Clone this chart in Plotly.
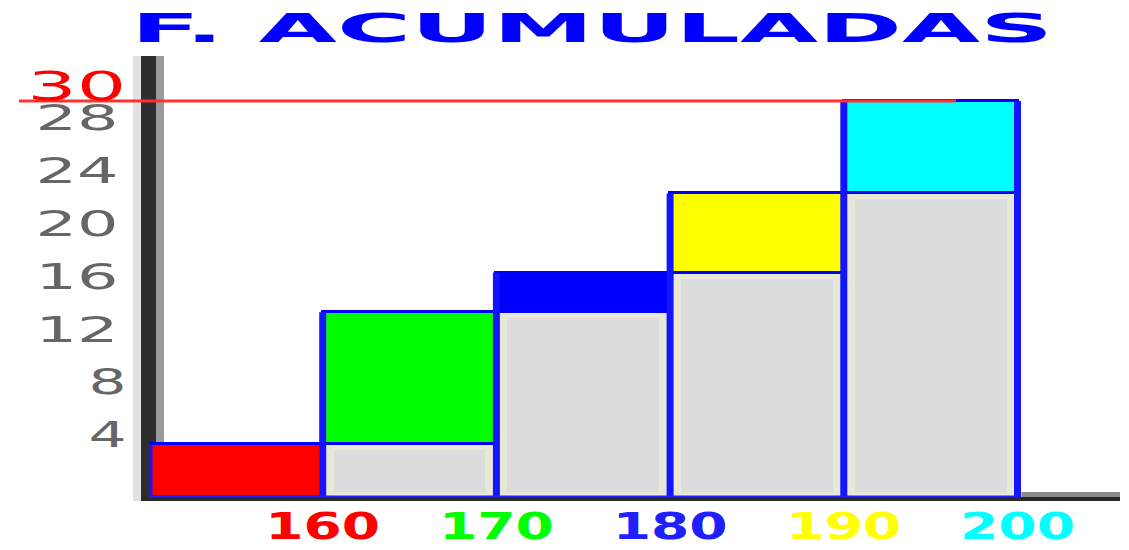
import json
import plotly.graph_objects as go

# ---------------- data ----------------
title_text = "F. ACUMULADAS"
class_edges = [150, 160, 170, 180, 190, 200]
cum_freq = [4, 14, 17, 23, 30]
bar_colors = ["#ff0000", "#00ff00", "#0000ff", "#ffff00", "#00ffff"]
x_tick_values = [160, 170, 180, 190, 200]
x_tick_labels = ["160", "170", "180", "190", "200"]
x_tick_colors = ["#ff0000", "#00ff00", "#2020ff", "#ffff00", "#00ffff"]
y_tick_values = [4, 8, 12, 16, 20, 24, 28]
total_n = 30

# ---------------- geometry helpers (layout only) ----------------
OFF = 8                      # default page body margin
W, H = 1129 - OFF, 550 - OFF
ML, MT = 149 - OFF, 58 - OFF
MR, MB = 9, 53
PW, PH = W - ML - MR, H - MT - MB
X_RANGE = [150, 150 + PW / 17.37]
Y_RANGE = [0, PH / 13.2]


def pxx(px):  # reference-picture pixel -> paper x
    return (px - OFF - ML) / PW


def pxy(py):  # reference-picture pixel -> paper y
    return (H - MB - (py - OFF)) / PH


ux = (X_RANGE[1] - X_RANGE[0]) / PW
uy = (Y_RANGE[1] - Y_RANGE[0]) / PH

mids = [(a + b) / 2 for a, b in zip(class_edges[:-1], class_edges[1:])]
widths = [b - a for a, b in zip(class_edges[:-1], class_edges[1:])]
prev = [0] + cum_freq[:-1]
freq = [c - p for c, p in zip(cum_freq, prev)]

fig = go.Figure()

# gray base (cream rim + gray inner)
fig.add_trace(go.Bar(x=mids, y=prev, base=0, width=widths,
                     marker=dict(color="#e8e8d8", line=dict(width=0)),
                     hoverinfo="skip", showlegend=False))
inset_x, inset_t, inset_b = 11 * ux, 6 * uy, 5 * uy
fig.add_trace(go.Bar(x=mids,
                     y=[max(p - inset_t - inset_b, 0) for p in prev],
                     base=inset_b,
                     width=[w - 2 * inset_x for w in widths],
                     marker=dict(color="#dcdcdc", line=dict(width=0)),
                     hoverinfo="skip", showlegend=False))
# colored increments
fig.add_trace(go.Bar(x=mids, y=freq, base=prev, width=widths,
                     marker=dict(color=bar_colors, line=dict(color="#0000ff", width=3)),
                     hoverinfo="skip", showlegend=False))

# thick vertical borders at class edges
vx, vy = [], []
for k, e in enumerate(class_edges):
    h = cum_freq[min(k, len(cum_freq) - 1)]
    vx += [e, e, None]
    vy += [0, h, None]
fig.add_trace(go.Scatter(x=vx, y=vy, mode="lines",
                         line=dict(color="#1414ff", width=7),
                         hoverinfo="skip", showlegend=False))
# bottom blue border
fig.add_trace(go.Scatter(x=[class_edges[0], class_edges[-1]], y=[0, 0], mode="lines",
                         line=dict(color="#2020ff", width=3),
                         hoverinfo="skip", showlegend=False))

shapes = [
    # y axis thick bar
    dict(type="rect", xref="paper", yref="paper", x0=pxx(133), x1=pxx(141), y0=pxy(501), y1=pxy(56),
         fillcolor="#e2e2e2", line=dict(width=0), layer="below"),
    dict(type="rect", xref="paper", yref="paper", x0=pxx(141), x1=pxx(156), y0=pxy(501), y1=pxy(56),
         fillcolor="#2e2e2e", line=dict(width=0), layer="below"),
    dict(type="rect", xref="paper", yref="paper", x0=pxx(156), x1=pxx(164), y0=pxy(501), y1=pxy(56),
         fillcolor="#9a9a9a", line=dict(width=0), layer="below"),
    # x axis line
    dict(type="rect", xref="paper", yref="paper", x0=pxx(141), x1=pxx(1120), y0=pxy(501), y1=pxy(497),
         fillcolor="#2a2a2a", line=dict(width=0), layer="above"),
    dict(type="rect", xref="x", yref="paper", x0=class_edges[-1] + 4 * ux, x1=X_RANGE[1],
         y0=pxy(497), y1=pxy(492), fillcolor="#8a8a8a", line=dict(width=0), layer="above"),
    # total reference line
    dict(type="line", xref="paper", yref="y", x0=pxx(19), x1=pxx(956), y0=total_n, y1=total_n,
         line=dict(color="#ff3030", width=3), layer="above"),
]

annotations = []
stretch_targets = {}   # annotation index -> target width in px (wide, stretched lettering)

stretch_targets[len(annotations)] = 922
annotations.append(dict(text=title_text, xref="paper", yref="paper", x=pxx(592), y=pxy(29),
                        width=940, align="center",
                        xanchor="center", yanchor="middle", showarrow=False,
                        font=dict(family="DejaVu Sans", size=39, color="#0000ff", weight="bold")))
# y tick labels (baseline sits on the value)
for v in y_tick_values:
    s = str(v)
    cx = 107 if len(s) == 1 else 76.5
    stretch_targets[len(annotations)] = 38 if len(s) == 1 else 83
    annotations.append(dict(text=s, xref="paper", yref="y", x=pxx(cx), y=v,
                            xanchor="center", yanchor="bottom", yshift=-13, showarrow=False,
                            font=dict(family="DejaVu Sans", size=36, color="#666666")))
stretch_targets[len(annotations)] = 99
annotations.append(dict(text=str(total_n), xref="paper", yref="y", x=pxx(76.5), y=total_n,
                        xanchor="center", yanchor="bottom", yshift=-10, showarrow=False,
                        font=dict(family="DejaVu Sans", size=39, color="#ff0000")))

ticktext = [f'<span style="color:{c}">{t}</span>' for t, c in zip(x_tick_labels, x_tick_colors)]

fig.update_layout(
    width=W, height=H,
    margin=dict(l=ML, r=MR, t=MT, b=MB, pad=0, autoexpand=False),
    paper_bgcolor="white", plot_bgcolor="rgba(0,0,0,0)",
    barmode="overlay", bargap=0,
    showlegend=False,
    shapes=shapes, annotations=annotations,
    xaxis=dict(range=X_RANGE, showgrid=False, zeroline=False, showline=False, automargin=False,
               tickmode="array", tickvals=x_tick_values, ticktext=ticktext, ticks="",
               ticklabelstandoff=4,
               tickfont=dict(family="DejaVu Sans", size=37, weight="bold")),
    yaxis=dict(range=Y_RANGE, showgrid=False, zeroline=False, showline=False, automargin=False,
               showticklabels=False, ticks=""),
)

# horizontally stretch the lettering (the original uses very wide glyphs)
post = """
try {
  var gd = document.getElementById('{plot_id}');
  var targets = TARGETS;
  function stretch(el, target) {
    var bb = el.getBBox();
    if (!bb.width) return;
    var s = target / bb.width;
    var cx = bb.x + bb.width / 2;
    var orig = el.getAttribute('transform') || '';
    el.setAttribute('transform', orig + ' translate(' + cx + ',0) scale(' + s + ',1) translate(' + (-cx) + ',0)');
  }
  gd.querySelectorAll('g.annotation').forEach(function (g) {
    var i = g.getAttribute('data-index');
    if (targets[i] !== undefined) {
      var t = g.querySelector('text.annotation-text');
      if (t) stretch(t, targets[i]);
    }
  });
  gd.querySelectorAll('g.xtick text').forEach(function (t) { stretch(t, 115); });
} catch (e) {}
""".replace("TARGETS", json.dumps({str(k): v for k, v in stretch_targets.items()}))

fig.write_html("out.html", config={"displayModeBar": False}, post_script=post)
